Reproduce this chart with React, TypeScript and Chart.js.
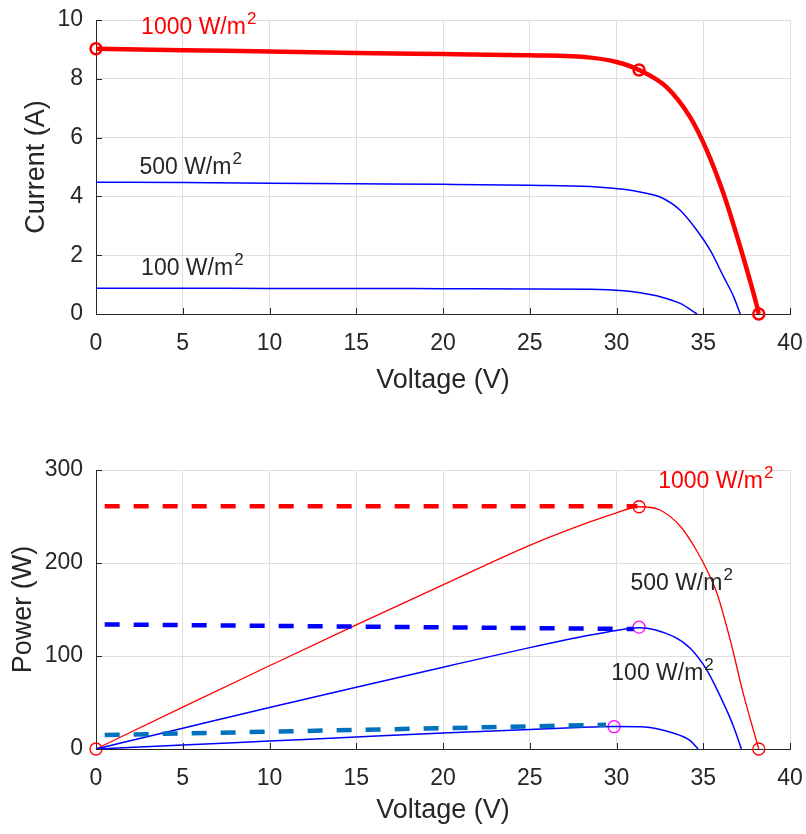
import React, { useEffect, useRef } from "react";
import { Chart, registerables } from "chart.js";

Chart.register(...registerables);

// ---------- I-V data (top chart) ----------
const ivVolt1000 = [0, 5, 10, 15, 20, 25, 28.5, 30, 31.3, 32.9, 34.25, 35.21, 36.17, 37.13, 38.1, 38.2];
const ivCurr1000 = [9.02, 8.97, 8.93, 8.88, 8.84, 8.8, 8.72, 8.57, 8.3, 7.71, 6.69, 5.56, 4.09, 2.28, 0.25, 0];
const ivVolt500 = [0, 5, 10, 15, 20, 25, 28.5, 30.4, 31.36, 32.52, 33.67, 34.63, 35.4, 36.17, 36.75, 37.13];
const ivCurr500 = [4.48, 4.47, 4.45, 4.43, 4.41, 4.38, 4.34, 4.24, 4.15, 3.98, 3.53, 2.85, 2.17, 1.27, 0.59, 0];
const ivVolt100 = [0, 5, 10, 15, 20, 25, 28.5, 30.4, 31.36, 32.52, 33.67, 34.65];
const ivCurr100 = [0.88, 0.88, 0.87, 0.87, 0.86, 0.85, 0.84, 0.79, 0.72, 0.59, 0.36, 0];
const ivMarkVolt = [0, 31.3, 38.2];
const ivMarkCurr = [9.02, 8.3, 0];

// ---------- P-V data (bottom chart) ----------
const pvVolt1000 = [0, 5, 10, 15, 20, 25, 28.5, 30, 31.3, 32.5, 33.7, 34.6, 35.3, 35.8, 36.6, 37.3, 38.2];
const pvPow1000 = [0, 45, 89.5, 133.5, 176.5, 219, 244.4, 254, 260.5, 257, 239, 214, 189, 167, 114, 60, 0];
const pvVolt500 = [0, 5, 10, 15, 20, 25, 28.5, 30, 31.3, 33.3, 34.25, 35.2, 36.17, 36.75, 37.2];
const pvPow500 = [0, 22.4, 44.7, 66.5, 88, 109, 122.6, 127.5, 130.5, 120.8, 108.3, 85, 49, 24, 0];
const pvVolt100 = [0, 5, 10, 15, 20, 25, 28.5, 29.9, 31.4, 33.3, 34.25, 34.7];
const pvPow100 = [0, 4.3, 8.6, 12.9, 17.1, 21, 23.6, 24.2, 24, 17, 9, 0];
// MPPT traces (dashed)
const mpptVolt1000 = [0.5, 31.2];
const mpptPow1000 = [261, 261];
const mpptVolt500 = [0.5, 31];
const mpptPow500 = [134, 129];
const mpptVolt100 = [0.5, 29.4];
const mpptPow100 = [15, 26];
// markers
const pvRedMarkVolt = [0, 31.3, 38.2];
const pvRedMarkPow = [0, 260.5, 0];
const pvMagMarkVolt = [31.3, 29.86];
const pvMagMarkPow = [131, 24];

// ---------- axes ----------
const xTicksStep = 5;
const xMin = 0;
const xMax = 40;
const ivYMax = 10;
const ivYStep = 2;
const pvYMax = 300;
const pvYStep = 100;

// ---------- annotation labels ----------
const ivLabelText = ["1000 W/m", "500 W/m", "100 W/m"];
const ivLabelV = [2.6, 2.5, 2.6];
const ivLabelY = [9.52, 4.77, 1.32];
const pvLabelText = ["1000 W/m", "500 W/m", "100 W/m"];
const pvLabelV = [32.4, 30.8, 29.7];
const pvLabelY = [280.3, 171, 74.2];

const FONT = "'Liberation Sans', Arial, Helvetica, sans-serif";
const DARK = "#262626";
const RED = "#ff0000";
const BLUE = "#0000ff";
const TEAL = "#0072bd";
const MAGENTA = "#ff00ff";
const GRID = "#dedede";

const pts = (xs: number[], ys: number[]) => xs.map((x, i) => ({ x, y: ys[i] }));

const inwardTicks = {
  id: "inwardTicks",
  afterDatasetsDraw(chart: any) {
    const { ctx, chartArea, scales } = chart;
    const x = scales.x;
    const y = scales.y;
    ctx.save();
    ctx.strokeStyle = DARK;
    ctx.lineWidth = 1;
    ctx.beginPath();
    x.ticks.forEach((_t: any, i: number) => {
      const px = Math.round(x.getPixelForTick(i)) + 0.5;
      ctx.moveTo(px, chartArea.bottom);
      ctx.lineTo(px, chartArea.bottom - 6);
    });
    y.ticks.forEach((_t: any, i: number) => {
      const py = Math.round(y.getPixelForTick(i)) + 0.5;
      ctx.moveTo(chartArea.left, py);
      ctx.lineTo(chartArea.left + 6, py);
    });
    ctx.stroke();
    ctx.restore();
  },
};

const wLabels = {
  id: "wLabels",
  afterDatasetsDraw(chart: any, _args: any, opts: any) {
    const items = (opts && opts.items) || [];
    const { ctx, scales } = chart;
    ctx.save();
    ctx.textBaseline = "alphabetic";
    ctx.textAlign = "left";
    items.forEach((it: any) => {
      const px = scales.x.getPixelForValue(it.x);
      const py = scales.y.getPixelForValue(it.y);
      ctx.fillStyle = it.color;
      ctx.font = `23px ${FONT}`;
      ctx.fillText(it.text, px, py);
      const w = ctx.measureText(it.text).width;
      ctx.font = `17px ${FONT}`;
      ctx.fillText("2", px + w + 1, py - 10);
    });
    ctx.restore();
  },
};

function makeOptions(
  yMax: number,
  yStep: number,
  yTitle: string,
  padTop: number,
  xHeight: number,
  xTitlePad: number,
  yTitlePad: number,
  labels: any[]
) {
  return {
    responsive: false,
    animation: false as const,
    events: [] as any[],
    layout: { padding: { top: padTop, right: 16, bottom: 0, left: 0 } },
    plugins: {
      legend: { display: false },
      tooltip: { enabled: false },
      wLabels: { items: labels },
    },
    scales: {
      x: {
        type: "linear" as const,
        min: xMin,
        max: xMax,
        afterFit: (s: any) => {
          s.height = xHeight;
          s.paddingLeft = 0;
          s.paddingRight = 0;
        },
        ticks: {
          stepSize: xTicksStep,
          color: DARK,
          font: { family: FONT, size: 23 },
          padding: 16,
        },
        grid: { color: GRID, lineWidth: 1, drawTicks: false },
        border: { display: true, color: DARK, width: 1 },
        title: {
          display: true,
          text: "Voltage (V)",
          color: DARK,
          font: { family: FONT, size: 27 },
          padding: { top: 0, bottom: xTitlePad },
        },
      },
      y: {
        type: "linear" as const,
        min: 0,
        max: yMax,
        afterFit: (s: any) => {
          s.width = 96;
          s.paddingTop = 0;
          s.paddingBottom = 0;
        },
        ticks: {
          stepSize: yStep,
          color: DARK,
          font: { family: FONT, size: 23 },
          padding: 13,
        },
        grid: { color: GRID, lineWidth: 1, drawTicks: false },
        border: { display: true, color: DARK, width: 1 },
        title: {
          display: true,
          text: yTitle,
          color: DARK,
          font: { family: FONT, size: 27 },
          padding: yTitlePad,
        },
      },
    },
  };
}

const curve = (data: any[], color: string, width: number, extra: any = {}) => ({
  data,
  borderColor: color,
  backgroundColor: color,
  borderWidth: width,
  pointRadius: 0,
  fill: false,
  cubicInterpolationMode: "monotone" as const,
  clip: false as const,
  ...extra,
});

const markers = (data: any[], color: string, radius: number, width: number) => ({
  data,
  showLine: false,
  borderColor: color,
  backgroundColor: "rgba(0,0,0,0)",
  pointBackgroundColor: "rgba(0,0,0,0)",
  pointBorderColor: color,
  pointBorderWidth: width,
  pointRadius: radius,
  pointStyle: "circle",
  clip: false as const,
});

export default function App() {
  const topRef = useRef<HTMLCanvasElement | null>(null);
  const botRef = useRef<HTMLCanvasElement | null>(null);

  useEffect(() => {
    const ivLabels = ivLabelText.map((t, i) => ({
      text: t,
      x: ivLabelV[i],
      y: ivLabelY[i],
      color: i === 0 ? RED : DARK,
    }));
    const pvLabels = pvLabelText.map((t, i) => ({
      text: t,
      x: pvLabelV[i],
      y: pvLabelY[i],
      color: i === 0 ? RED : DARK,
    }));

    const top = new Chart(topRef.current as HTMLCanvasElement, {
      type: "line",
      data: {
        datasets: [
          curve(pts(ivVolt100, ivCurr100), BLUE, 1.5),
          curve(pts(ivVolt500, ivCurr500), BLUE, 1.5),
          curve(pts(ivVolt1000, ivCurr1000), RED, 4.5),
          markers(pts(ivMarkVolt, ivMarkCurr), RED, 5.5, 2.5),
        ] as any,
      },
      options: makeOptions(ivYMax, ivYStep, "Current (A)", 20, 103, 20, 20.5, ivLabels) as any,
      plugins: [inwardTicks, wLabels],
    });

    const bot = new Chart(botRef.current as HTMLCanvasElement, {
      type: "line",
      data: {
        datasets: [
          curve(pts(mpptVolt1000, mpptPow1000), RED, 4.5, { borderDash: [15, 14], cubicInterpolationMode: "default" }),
          curve(pts(mpptVolt500, mpptPow500), BLUE, 4.5, { borderDash: [15, 14], cubicInterpolationMode: "default" }),
          curve(pts(mpptVolt100, mpptPow100), TEAL, 4.5, { borderDash: [15, 14], cubicInterpolationMode: "default" }),
          curve(pts(pvVolt100, pvPow100), BLUE, 1.5),
          curve(pts(pvVolt500, pvPow500), BLUE, 1.5),
          curve(pts(pvVolt1000, pvPow1000), RED, 1.3),
          markers(pts(pvRedMarkVolt, pvRedMarkPow), RED, 6, 1.3),
          markers(pts(pvMagMarkVolt, pvMagMarkPow), MAGENTA, 6, 1.3),
        ] as any,
      },
      options: makeOptions(pvYMax, pvYStep, "Power (W)", 53, 85, 7, 7, pvLabels) as any,
      plugins: [inwardTicks, wLabels],
    });

    return () => {
      top.destroy();
      bot.destroy();
    };
  }, []);

  return (
    <div style={{ position: "absolute", left: 0, top: 0, width: 806, height: 834, background: "#fff" }}>
      <canvas
        ref={topRef}
        width={806}
        height={417}
        style={{ position: "absolute", left: 0, top: 0, width: 806, height: 417 }}
      />
      <canvas
        ref={botRef}
        width={806}
        height={417}
        style={{ position: "absolute", left: 0, top: 417, width: 806, height: 417 }}
      />
    </div>
  );
}
